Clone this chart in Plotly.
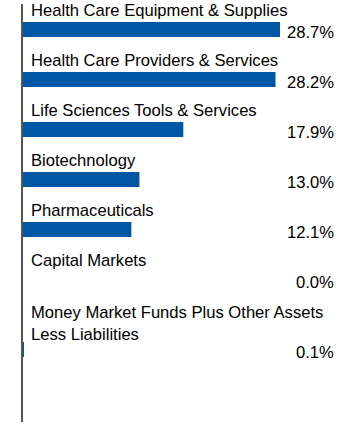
import plotly.graph_objects as go

categories = [
    "Health Care Equipment & Supplies",
    "Health Care Providers & Services",
    "Life Sciences Tools & Services",
    "Biotechnology",
    "Pharmaceuticals",
    "Capital Markets",
    "Money Market Funds Plus Other Assets<br>Less Liabilities",
]
values = [28.7, 28.2, 17.9, 13.0, 12.1, 0.0, 0.1]
value_labels = ["28.7%", "28.2%", "17.9%", "13.0%", "12.1%", "0.0%", "0.1%"]

W, H = 360, 426
AXIS_X = 23
FIRST = 29.5
PITCH = 50
EXTRA_LINE = 20
BAR_H = 15
FONT = "Liberation Sans, Arial, sans-serif"
FS = 16.6
BLUE = "#0157A6"

# row centers (pixel-like units) derived from label line counts
centers = []
pos = FIRST
for i, c in enumerate(categories):
    extra = c.count("<br>")
    pos += extra * EXTRA_LINE
    centers.append(pos)
    pos += PITCH

fig = go.Figure()
fig.add_trace(go.Bar(
    x=values, y=centers, orientation="h", width=BAR_H,
    marker=dict(color=BLUE, line=dict(width=0)),
    hoverinfo="skip",
))

ann = []
for c, y, lab in zip(categories, centers, value_labels):
    extra = c.count("<br>")
    ann.append(dict(
        x=0, y=y - BAR_H / 2, xref="x", yref="y", text=c,
        xanchor="left", yanchor="bottom", xshift=6, yshift=-4 * extra,
        showarrow=False, align="left",
        font=dict(family=FONT, size=FS, color="#000000"),
    ))
    ann.append(dict(
        x=(338 - AXIS_X) / (W - AXIS_X), y=y, xref="paper", yref="y", text=lab,
        xanchor="right", yanchor="middle", yshift=-2.5,
        showarrow=False,
        font=dict(family=FONT, size=FS, color="#000000"),
    ))

fig.update_layout(
    width=W, height=H,
    margin=dict(l=0, r=0, t=0, b=0),
    paper_bgcolor="white", plot_bgcolor="white",
    showlegend=False,
    annotations=ann,
    xaxis=dict(domain=[AXIS_X / W, 1], range=[0, (W - AXIS_X) / 8.955],
               showgrid=False, zeroline=False, showticklabels=False, ticks=""),
    yaxis=dict(domain=[1 - 422 / H, 1 - 4 / H], range=[422, 4],
               showgrid=False, zeroline=False, showticklabels=False, ticks="",
               showline=True, linecolor="#555555", linewidth=1.5),
)

fig.write_html("out.html")
